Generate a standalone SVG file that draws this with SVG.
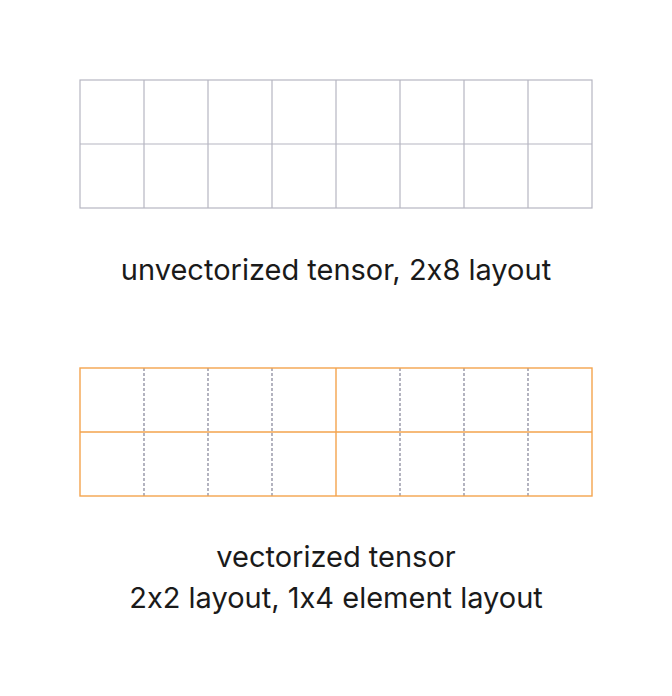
<svg xmlns="http://www.w3.org/2000/svg" width="672" height="696" viewBox="0 0 672 696">
<style>
.g{fill:none;stroke:#b6b6c2;stroke-width:1.2}
.o{fill:none;stroke:#f4a44e;stroke-width:1.4}
.d{fill:none;stroke:#8c8c9e;stroke-width:1.3;stroke-dasharray:3 2}
.t{font-family:Inter,"Noto Sans",sans-serif;font-size:29px;fill:#1a1a1a;text-anchor:middle;font-feature-settings:"calt" 0;font-variant-ligatures:none}
</style>
<rect width="672" height="696" fill="#ffffff"/>
<g id="unvectorized">
<rect class="g" x="80" y="80" width="512" height="128"/>
<path class="g" d="M80 144H592M144 80V208M208 80V208M272 80V208M336 80V208M400 80V208M464 80V208M528 80V208"/>
</g>
<text class="t" x="336" y="280">unvectorized tensor, 2x8 layout</text>
<g id="vectorized">
<path class="d" d="M144 368V496M208 368V496M272 368V496M400 368V496M464 368V496M528 368V496"/>
<rect class="o" x="80" y="368" width="512" height="128"/>
<path class="o" d="M80 432H592M336 368V496"/>
</g>
<text class="t" x="336" y="567">vectorized tensor</text>
<text class="t" x="336" y="608">2x2 layout, 1x4 element layout</text>
</svg>
